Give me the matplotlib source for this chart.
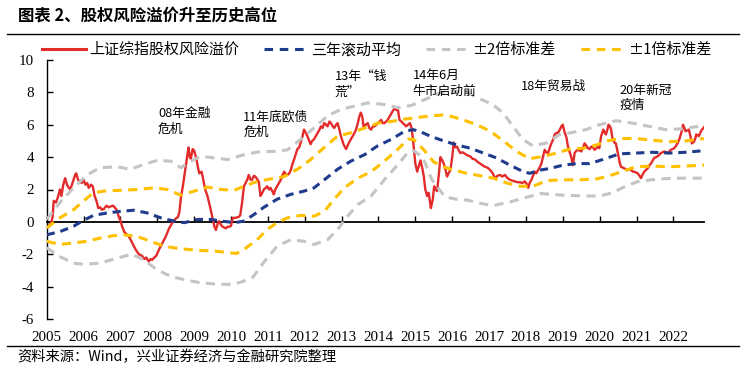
import matplotlib
matplotlib.use("Agg")

import matplotlib.pyplot as plt
from matplotlib.lines import Line2D

CJK = ["Noto Sans CJK SC", "DejaVu Sans"]
SERIF = ["Liberation Serif", "DejaVu Serif"]

# 上证综指股权风险溢价
erp_x = [
    2005.00, 2005.05, 2005.12, 2005.16, 2005.19, 2005.25, 2005.30, 2005.36, 2005.40, 2005.45,
    2005.50, 2005.55, 2005.60, 2005.64, 2005.70, 2005.77, 2005.80, 2005.85, 2005.90, 2005.95,
    2006.00, 2006.05, 2006.10, 2006.14, 2006.20, 2006.25, 2006.30, 2006.35, 2006.40, 2006.45,
    2006.50, 2006.55, 2006.62, 2006.68, 2006.73, 2006.80, 2006.86, 2006.91, 2006.95, 2007.00,
    2007.05, 2007.10, 2007.14, 2007.23, 2007.32, 2007.41, 2007.50, 2007.59, 2007.65, 2007.70,
    2007.77, 2007.82, 2007.86, 2007.92, 2007.97, 2008.05, 2008.14, 2008.23, 2008.32, 2008.41,
    2008.50, 2008.56, 2008.60, 2008.64, 2008.70, 2008.77, 2008.82, 2008.85, 2008.88, 2008.91,
    2008.96, 2009.00, 2009.06, 2009.10, 2009.14, 2009.20, 2009.23, 2009.30, 2009.36, 2009.45,
    2009.50, 2009.55, 2009.59, 2009.64, 2009.68, 2009.73, 2009.77, 2009.82, 2009.86, 2009.91,
    2009.95, 2010.00, 2010.05, 2010.12, 2010.20, 2010.25, 2010.30, 2010.35, 2010.44, 2010.48,
    2010.53, 2010.57, 2010.62, 2010.66, 2010.72, 2010.75, 2010.80, 2010.85, 2010.89, 2010.94,
    2010.98, 2011.03, 2011.07, 2011.12, 2011.16, 2011.20, 2011.25, 2011.30, 2011.35, 2011.40,
    2011.44, 2011.50, 2011.53, 2011.58, 2011.62, 2011.67, 2011.71, 2011.76, 2011.80, 2011.85,
    2011.89, 2011.94, 2011.98, 2012.03, 2012.07, 2012.12, 2012.16, 2012.20, 2012.25, 2012.30,
    2012.35, 2012.40, 2012.44, 2012.48, 2012.53, 2012.58, 2012.62, 2012.67, 2012.71, 2012.76,
    2012.80, 2012.85, 2012.89, 2012.94, 2012.98, 2013.05, 2013.12, 2013.16, 2013.20, 2013.25,
    2013.30, 2013.35, 2013.39, 2013.44, 2013.48, 2013.52, 2013.56, 2013.60, 2013.65, 2013.71,
    2013.75, 2013.80, 2013.85, 2013.89, 2013.94, 2013.98, 2014.03, 2014.07, 2014.12, 2014.16,
    2014.21, 2014.25, 2014.30, 2014.35, 2014.40, 2014.44, 2014.49, 2014.53, 2014.57, 2014.62,
    2014.66, 2014.71, 2014.75, 2014.80, 2014.85, 2014.90, 2014.94, 2015.00, 2015.05, 2015.10,
    2015.14, 2015.19, 2015.23, 2015.27, 2015.32, 2015.36, 2015.40, 2015.42, 2015.47, 2015.51,
    2015.55, 2015.59, 2015.64, 2015.68, 2015.73, 2015.77, 2015.82, 2015.86, 2015.90, 2015.95,
    2016.00, 2016.04, 2016.08, 2016.13, 2016.18, 2016.22, 2016.28, 2016.35, 2016.42, 2016.49,
    2016.55, 2016.62, 2016.69, 2016.76, 2016.82, 2016.89, 2016.96, 2017.03, 2017.10, 2017.16,
    2017.23, 2017.30, 2017.36, 2017.43, 2017.50, 2017.57, 2017.63, 2017.70, 2017.77, 2017.84,
    2017.90, 2017.97, 2018.02, 2018.06, 2018.10, 2018.15, 2018.20, 2018.24, 2018.28, 2018.33,
    2018.38, 2018.42, 2018.46, 2018.51, 2018.55, 2018.60, 2018.65, 2018.69, 2018.74, 2018.78,
    2018.83, 2018.87, 2018.92, 2018.96, 2019.00, 2019.04, 2019.07, 2019.10, 2019.14, 2019.19,
    2019.23, 2019.27, 2019.30, 2019.32, 2019.37, 2019.41, 2019.46, 2019.50, 2019.55, 2019.59,
    2019.64, 2019.68, 2019.73, 2019.77, 2019.82, 2019.86, 2019.91, 2019.95, 2019.99, 2020.04,
    2020.10, 2020.14, 2020.17, 2020.21, 2020.24, 2020.28, 2020.31, 2020.35, 2020.40, 2020.44,
    2020.47, 2020.51, 2020.55, 2020.58, 2020.63, 2020.67, 2020.72, 2020.76, 2020.80, 2020.85,
    2020.90, 2020.94, 2020.98, 2021.03, 2021.08, 2021.12, 2021.16, 2021.21, 2021.25, 2021.30,
    2021.35, 2021.39, 2021.44, 2021.48, 2021.53, 2021.57, 2021.62, 2021.66, 2021.71, 2021.75,
    2021.80, 2021.84, 2021.89, 2021.93, 2021.98, 2022.02, 2022.07, 2022.11, 2022.16, 2022.20,
    2022.24, 2022.26, 2022.30, 2022.33, 2022.38, 2022.42, 2022.46, 2022.50, 2022.53, 2022.56,
    2022.60, 2022.62, 2022.66, 2022.69, 2022.73, 2022.77, 2022.80, 2022.83,
]
erp_y = [
    -0.15, -0.3, -0.05, 0.3, 1.3, 1.2, 1.5, 2.0, 1.6, 2.3,
    2.7, 2.3, 2.1, 2.0, 2.4, 2.9, 3.0, 2.6, 2.5, 2.4,
    2.6, 2.3, 2.4, 2.1, 2.3, 2.2, 1.6, 1.3, 0.85, 0.9,
    0.75, 0.8, 1.0, 0.9, 0.95, 1.0, 0.85, 0.7, 0.35, 0.05,
    -0.3, -0.6, -0.7, -0.9, -1.3, -1.7, -2.0, -2.1, -2.3, -2.2,
    -2.45, -2.3, -2.35, -2.2, -2.1, -1.7, -1.3, -0.9, -0.4, -0.05,
    0.2, 0.3, 0.6, 1.5, 2.3, 3.4, 4.2, 4.6, 4.0, 3.9,
    4.5, 4.4, 3.9, 3.4, 3.0, 3.1, 2.8, 2.0, 1.6, 0.75,
    0.2, -0.3, -0.5, -0.1, 0.05, -0.2, -0.3, -0.35, -0.4, -0.3,
    -0.3, -0.25, 0.25, 0.25, 0.3, 0.4, 1.2, 2.2, 2.6, 2.9,
    2.6, 2.6, 2.85, 2.8, 2.6, 2.5, 1.6, 1.8, 2.0, 2.1,
    2.2, 2.0, 2.1, 1.9, 1.7, 2.0, 2.2, 2.4, 2.6, 2.9,
    3.1, 2.9, 2.9, 3.0, 3.2, 3.6, 3.85, 4.2, 4.5, 4.6,
    4.9, 5.3, 5.7, 5.5, 5.3, 5.0, 4.8, 5.0, 5.1, 5.3,
    5.5, 5.7, 5.9, 5.8, 6.1, 6.0, 5.9, 6.2, 6.1, 5.9,
    5.8, 6.0, 6.1, 5.7, 5.3, 4.8, 4.5, 4.7, 4.9, 5.1,
    5.3, 5.5, 5.7, 6.1, 6.5, 6.75, 6.5, 5.8, 6.0, 6.1,
    5.8, 5.7, 5.9, 5.9, 6.0, 6.1, 6.2, 6.3, 6.1, 6.1,
    6.2, 6.3, 6.5, 6.7, 6.9, 7.0, 6.9, 6.9, 6.3, 6.2,
    6.1, 6.0, 5.9, 6.0, 6.1, 5.8, 5.0, 3.6, 3.1, 3.5,
    3.8, 3.3, 2.8, 2.0, 1.6, 1.8, 1.2, 0.85, 1.35, 2.2,
    2.0, 1.9, 3.0, 4.0, 3.8, 3.6, 3.2, 2.8, 3.0, 3.2,
    4.0, 4.9, 4.6, 4.65, 4.4, 4.25, 4.3, 4.2, 4.1, 4.05,
    3.9, 3.85, 3.7, 3.6, 3.5, 3.4, 3.35, 3.2, 3.0, 2.7,
    2.85, 2.9, 2.8, 2.9, 2.7, 2.6, 2.55, 2.5, 2.45, 2.45,
    2.4, 2.5, 2.35, 2.1, 2.4, 2.6, 2.9, 3.1, 3.0, 3.2,
    3.4, 3.6, 4.0, 4.45, 4.3, 4.25, 4.6, 4.85, 5.1, 5.4,
    5.5, 5.5, 5.7, 5.9, 6.0, 5.6, 5.4, 5.2, 4.65, 4.3,
    4.0, 3.5, 3.9, 4.25, 4.4, 4.45, 4.4, 4.35, 4.6, 4.85,
    4.7, 4.55, 4.5, 4.65, 4.6, 4.45, 4.55, 4.65, 4.55, 5.3,
    5.7, 5.5, 5.4, 5.7, 6.0, 5.9, 5.7, 5.1, 4.9, 4.85,
    4.5, 4.05, 3.6, 3.4, 3.35, 3.3, 3.25, 3.2, 3.25, 3.2,
    3.1, 3.1, 3.05, 3.0, 2.85, 2.7, 2.9, 3.1, 3.2, 3.3,
    3.5, 3.6, 3.8, 3.95, 4.0, 4.05, 4.15, 4.25, 4.3, 4.35,
    4.3, 4.25, 4.35, 4.45, 4.5, 4.55, 4.7, 4.85, 5.1, 5.4,
    5.7, 6.0, 5.8, 5.6, 5.65, 5.7, 5.3, 4.85, 4.9, 4.95,
    5.2, 5.4, 5.35, 5.3, 5.5, 5.7, 5.75, 5.85,
]

# 三年滚动平均
mean_x = [2005.0, 2005.36, 2005.73, 2006.0, 2006.27, 2006.64, 2007.0, 2007.36, 2007.73, 2008.09,
          2008.45, 2008.73, 2009.1, 2009.45, 2009.73, 2010.1, 2010.35, 2010.62, 2010.89, 2011.25,
          2011.62, 2011.98, 2012.25, 2012.53, 2012.89, 2013.25, 2013.62, 2013.98, 2014.35, 2014.71,
          2014.94, 2015.16, 2015.4, 2015.77, 2016.13, 2016.49, 2016.85, 2017.2, 2017.57, 2017.93,
          2018.1, 2018.38, 2018.65, 2019.0, 2019.37, 2019.73, 2020.08, 2020.53, 2020.98, 2021.43,
          2021.88, 2022.33, 2022.83]
mean_y = [-0.8, -0.6, -0.27, 0.1, 0.4, 0.55, 0.65, 0.72, 0.55, 0.25,
          0.05, -0.05, 0.15, 0.15, 0.05, -0.05, 0.05, 0.45, 0.9, 1.4,
          1.7, 1.9, 2.1, 2.6, 3.25, 3.75, 4.15, 4.7, 5.1, 5.6,
          5.7, 5.55, 5.3, 5.0, 4.75, 4.55, 4.25, 3.95, 3.5, 3.1,
          3.0, 3.2, 3.3, 3.5, 3.6, 3.6, 3.85, 4.2, 4.25, 4.3,
          4.25, 4.3, 4.4]

# +2倍标准差
up2_x = [2005.0, 2005.36, 2005.73, 2006.09, 2006.45, 2006.91, 2007.27, 2007.64, 2008.0, 2008.36,
         2008.64, 2008.91, 2009.18, 2009.55, 2009.91, 2010.35, 2010.8, 2011.16, 2011.53, 2011.89,
         2012.25, 2012.62, 2012.98, 2013.35, 2013.71, 2014.16, 2014.53, 2014.9, 2015.3, 2015.65,
         2016.0, 2016.4, 2016.75, 2017.1, 2017.38, 2017.65, 2017.92, 2018.19, 2018.55, 2018.91,
         2019.27, 2019.63, 2019.99, 2020.44, 2020.89, 2021.34, 2021.79, 2022.24, 2022.83]
up2_y = [0.15, 1.2, 2.1, 2.9, 3.35, 3.4, 3.25, 3.55, 3.8, 3.75,
         3.35, 3.75, 4.05, 3.95, 3.85, 4.15, 4.35, 4.35, 4.45, 5.1,
         5.8, 6.55, 6.95, 7.15, 7.35, 7.25, 7.05, 7.2, 7.6, 7.95,
         8.1, 8.0, 7.6, 7.25, 6.73, 5.9, 5.08, 4.7, 4.87, 5.39,
         5.53, 5.7, 6.0, 6.25, 6.1, 5.9, 5.7, 5.75, 5.95]

# +1倍标准差
up1_x = [2005.0, 2005.36, 2005.73, 2006.0, 2006.27, 2006.55, 2007.0, 2007.45, 2007.91, 2008.27,
         2008.64, 2009.0, 2009.36, 2009.73, 2010.09, 2010.35, 2010.71, 2011.07, 2011.44, 2011.8,
         2012.16, 2012.53, 2012.89, 2013.25, 2013.62, 2013.98, 2014.35, 2014.71, 2015.07, 2015.4,
         2015.75, 2016.0, 2016.3, 2016.67, 2017.03, 2017.39, 2017.75, 2018.1, 2018.47, 2018.83,
         2019.19, 2019.55, 2019.91, 2020.2, 2020.53, 2020.98, 2021.43, 2021.88, 2022.33, 2022.83]
up1_y = [-0.37, 0.25, 0.75, 1.3, 1.8, 1.9, 1.95, 2.0, 2.1, 2.0,
         1.65, 1.9, 2.15, 2.0, 1.95, 2.2, 2.5, 2.65, 2.8, 3.25,
         3.85, 4.6, 5.3, 5.5, 5.8, 6.1, 6.2, 6.35, 6.45, 6.55,
         6.6, 6.5, 6.3, 6.0, 5.6, 5.0, 4.35, 3.9, 4.05, 4.25,
         4.5, 4.55, 4.75, 5.0, 5.15, 5.15, 5.05, 4.95, 5.0, 5.15]

# -1倍标准差
lo1_x = [2005.0, 2005.36, 2005.73, 2006.09, 2006.45, 2006.82, 2007.09, 2007.45, 2007.82, 2008.18,
         2008.45, 2008.82, 2009.18, 2009.55, 2009.91, 2010.15, 2010.35, 2010.71, 2010.98, 2011.25,
         2011.53, 2011.89, 2012.25, 2012.53, 2012.8, 2013.07, 2013.44, 2013.8, 2014.16, 2014.53,
         2014.8, 2014.95, 2015.23, 2015.5, 2015.77, 2016.04, 2016.4, 2016.76, 2017.12, 2017.48,
         2017.84, 2018.2, 2018.56, 2019.0, 2019.46, 2019.91, 2020.2, 2020.53, 2020.98, 2021.43,
         2021.88, 2022.33, 2022.83]
lo1_y = [-1.2, -1.4, -1.3, -1.2, -1.0, -0.85, -0.8, -0.9, -1.2, -1.5,
         -1.6, -1.7, -1.77, -1.8, -1.9, -1.95, -1.7, -1.1, -0.47, -0.05,
         0.25, 0.4, 0.35, 0.65, 1.4, 2.1, 2.7, 3.1, 3.75, 4.5,
         5.1, 5.1, 4.45, 3.7, 3.4, 3.2, 3.0, 2.85, 2.7, 2.4,
         2.2, 2.2, 2.55, 2.6, 2.6, 2.65, 2.8, 3.05, 3.4, 3.45,
         3.4, 3.45, 3.5]

# -2倍标准差
lo2_x = [2005.0, 2005.36, 2005.73, 2006.0, 2006.45, 2006.82, 2007.3, 2007.6, 2008.0, 2008.4,
         2008.8, 2009.15, 2009.6, 2010.05, 2010.3, 2010.6, 2010.89, 2011.25, 2011.62, 2011.98,
         2012.25, 2012.62, 2012.89, 2013.16, 2013.44, 2013.8, 2014.16, 2014.53, 2014.8, 2014.95,
         2015.2, 2015.45, 2015.8, 2016.1, 2016.4, 2016.75, 2017.1, 2017.6, 2017.9, 2018.4,
         2019.0, 2019.6, 2020.0, 2020.35, 2020.7, 2021.05, 2021.6, 2022.1, 2022.83]
lo2_y = [-1.6, -2.15, -2.55, -2.62, -2.55, -2.3, -2.0, -2.3, -2.97, -3.4,
         -3.6, -3.75, -3.85, -3.86, -3.7, -3.4, -2.5, -1.5, -1.1, -1.2,
         -1.4, -1.1, -0.47, 0.35, 1.07, 1.6, 2.6, 3.55, 4.3, 4.4,
         4.0, 2.6, 1.55, 1.4, 1.35, 1.15, 1.0, 1.25, 1.45, 1.75,
         1.65, 1.6, 1.6, 1.8, 2.2, 2.5, 2.65, 2.7, 2.7]

years = list(range(2005, 2023))
y_ticks = [-6, -4, -2, 0, 2, 4, 6, 8, 10]

notes = ["08年金融\n危机", "11年底欧债\n危机", "13年“钱\n荒”", "14年6月\n牛市启动前",
         "18年贸易战", "20年新冠\n疫情"]
note_x = [2008.02, 2010.33, 2012.81, 2014.93, 2017.85, 2020.54]
note_y = [6.19, 6.0, 8.48, 8.54, 8.36, 7.65]

RED = "#E32B2B"
NAVY = "#1F3B8C"
GREY = "#C4C4C4"
GOLD = "#FFC000"
DASH = (3.0, 2.1)

W, H = 746, 370
fig = plt.figure(figsize=(W / 100, H / 100), dpi=100)
ax = fig.add_axes([46.7 / W, 51 / H, (704 - 46.7) / W, 259 / H])

ax.plot(erp_x, erp_y, color=RED, lw=1.7, zorder=2, label="上证综指股权风险溢价")
ax.plot(mean_x, mean_y, color=NAVY, lw=2.2, dashes=(2.7, 1.9), zorder=3, label="三年滚动平均")
ax.plot(up2_x, up2_y, color=GREY, lw=2.2, dashes=DASH, zorder=4, label="±2倍标准差")
ax.plot(lo2_x, lo2_y, color=GREY, lw=2.2, dashes=DASH, zorder=4)
ax.plot(up1_x, up1_y, color=GOLD, lw=2.2, dashes=DASH, zorder=5, label="±1倍标准差")
ax.plot(lo1_x, lo1_y, color=GOLD, lw=2.2, dashes=DASH, zorder=5)

ax.set_xlim(2005, 2022.83)
ax.set_ylim(-6, 10)

ax.spines["top"].set_visible(False)
ax.spines["right"].set_visible(False)
ax.spines["bottom"].set_position(("data", 0))
ax.spines["bottom"].set_linewidth(1.3)
ax.spines["bottom"].set_zorder(1)
ax.spines["left"].set_linewidth(1.0)

ax.set_xticks(years)
ax.set_xticklabels([])
ax.tick_params(axis="x", direction="in", length=4, width=1)
ax.set_yticks(y_ticks)
ax.set_yticklabels([str(v) for v in y_ticks], family=SERIF, fontsize=10.8)
ax.tick_params(axis="y", direction="in", length=4, width=1, pad=9)

# year labels sit under the plot, not on the zero line
for yr in years:
    ax.text(yr, -0.07, str(yr), transform=ax.get_xaxis_transform(),
            ha="center", va="center", family=SERIF, fontsize=10.8)

for txt, nx, ny in zip(notes, note_x, note_y):
    ax.text(nx, ny, txt, ha="left", va="center", family=CJK, fontsize=9.2,
            linespacing=1.25, zorder=6)

handles = [
    Line2D([], [], color=RED, lw=2.2),
    Line2D([], [], color=NAVY, lw=2.2, dashes=(2.8, 2.2)),
    Line2D([], [], color=GREY, lw=2.2, dashes=(2.8, 2.2)),
    Line2D([], [], color=GOLD, lw=2.2, dashes=(2.8, 2.2)),
]
labels = ["上证综指股权风险溢价", "三年滚动平均", "±2倍标准差", "±1倍标准差"]
fig.legend(handles, labels, loc="center left", bbox_to_anchor=(42 / W, 1 - 50 / H),
           ncol=4, frameon=False, borderpad=0, borderaxespad=0, handlelength=2.9,
           handletextpad=0.25, columnspacing=1.65, prop={"family": CJK, "size": 10.8})

fig.text(18 / W, 1 - 16 / H, "图表 2、股权风险溢价升至历史高位", ha="left", va="center",
         family=CJK, fontsize=11.8, fontweight="bold")
fig.add_artist(Line2D([7 / W, 739 / W], [1 - 34 / H, 1 - 34 / H], color="black", lw=1.0))
fig.add_artist(Line2D([7 / W, 739 / W], [1 - 346 / H, 1 - 346 / H], color="black", lw=1.0))
fig.text(17 / W, 1 - 357 / H, "资料来源：Wind，兴业证券经济与金融研究院整理", ha="left",
         va="center", family=CJK, fontsize=10.3)

fig.savefig("out.png", dpi=100)
plt.close(fig)
